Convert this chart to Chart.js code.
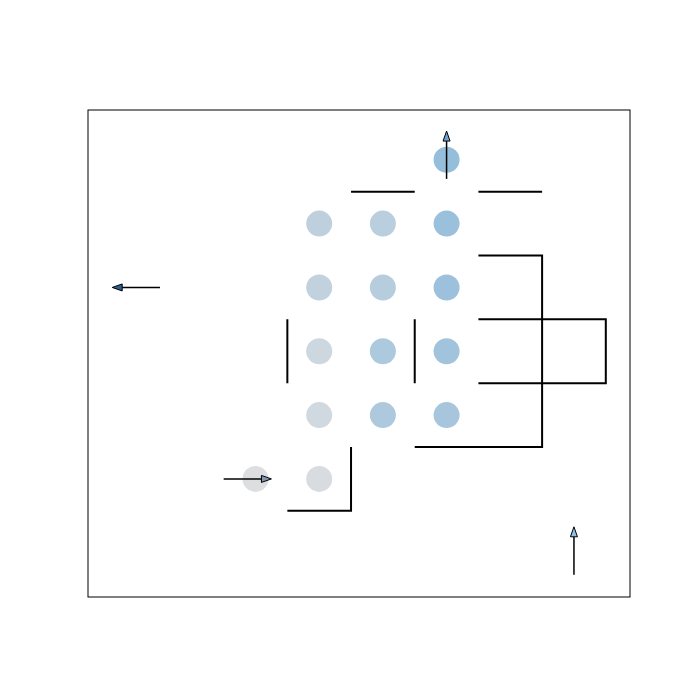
<!DOCTYPE html>
<html><head><script src="https://cdn.jsdelivr.net/npm/chart.js@4"></script>
<style>body{margin:0}#w{width:700px;height:700px}</style></head>
<body><div id="w"><canvas id="c"></canvas></div>
<script>
const cellX=[2,3,3,3,3,3,4,4,4,4,5,5,5,5,5];
const cellY=[0,0,1,2,3,4,1,2,3,4,1,2,3,4,5];
const cellV=[0.05,0.1,0.2,0.25,0.38,0.42,0.62,0.63,0.52,0.48,0.7,0.78,0.83,0.86,0.92];
const walls=[[[3.5,4.5],[4.5,4.5]],[[5.5,4.5],[6.5,4.5]],[[5.5,3.5],[6.5,3.5],[6.5,0.5],[4.5,0.5]],
[[5.5,2.5],[7.5,2.5],[7.5,1.5],[5.5,1.5]],[[2.5,2.5],[2.5,1.5]],[[4.5,2.5],[4.5,1.5]],
[[3.5,0.5],[3.5,-0.5],[2.5,-0.5]]];
const arrows=[[0.5,3,-0.25,3,'#2e5f8f'],[1.5,0,2.25,0,'#7f98b0'],[5,4.7,5,5.45,'#6fa3cf'],[7,-1.5,7,-0.75,'#8fc0e6']];
function col(v){const a=[224,224,224],b=[143,187,219];return `rgb(${a.map((x,i)=>Math.round(x+(b[i]-x)*v)).join(',')})`;}
const ds=[{data:cellX.map((x,i)=>({x,y:cellY[i]})),backgroundColor:cellV.map(col),borderWidth:0,pointRadius:13,showLine:false}];
walls.forEach(w=>ds.push({data:w.map(p=>({x:p[0],y:p[1]})),showLine:true,borderColor:'#000',borderWidth:2,pointRadius:0,tension:0}));
const deco={id:'deco',afterDatasetsDraw(ch){const c=ch.ctx,a=ch.chartArea,xs=ch.scales.x,ys=ch.scales.y;
c.save();c.strokeStyle='#000';c.lineWidth=1;c.strokeRect(a.left,a.top,a.right-a.left,a.bottom-a.top);
arrows.forEach(([x1,y1,x2,y2,f])=>{const X1=xs.getPixelForValue(x1),Y1=ys.getPixelForValue(y1),X2=xs.getPixelForValue(x2),Y2=ys.getPixelForValue(y2);
const an=Math.atan2(Y2-Y1,X2-X1),L=10,W=3.5;const bx=X2-L*Math.cos(an),by=Y2-L*Math.sin(an);
c.lineWidth=1.5;c.beginPath();c.moveTo(X1,Y1);c.lineTo(bx,by);c.stroke();
c.beginPath();c.moveTo(X2,Y2);c.lineTo(bx-W*Math.sin(an),by+W*Math.cos(an));c.lineTo(bx+W*Math.sin(an),by-W*Math.cos(an));c.closePath();
c.fillStyle=f;c.fill();c.lineWidth=1;c.stroke();});c.restore();}};
new Chart(document.getElementById('c'),{type:'scatter',data:{datasets:ds},plugins:[deco],
options:{responsive:true,maintainAspectRatio:false,animation:false,
layout:{padding:{left:88,right:70,top:110,bottom:103}},
plugins:{legend:{display:false},tooltip:{enabled:false}},
scales:{x:{type:'linear',min:-0.63,max:7.88,display:false},y:{type:'linear',min:-1.85,max:5.78,display:false}}}});
</script></body></html>
